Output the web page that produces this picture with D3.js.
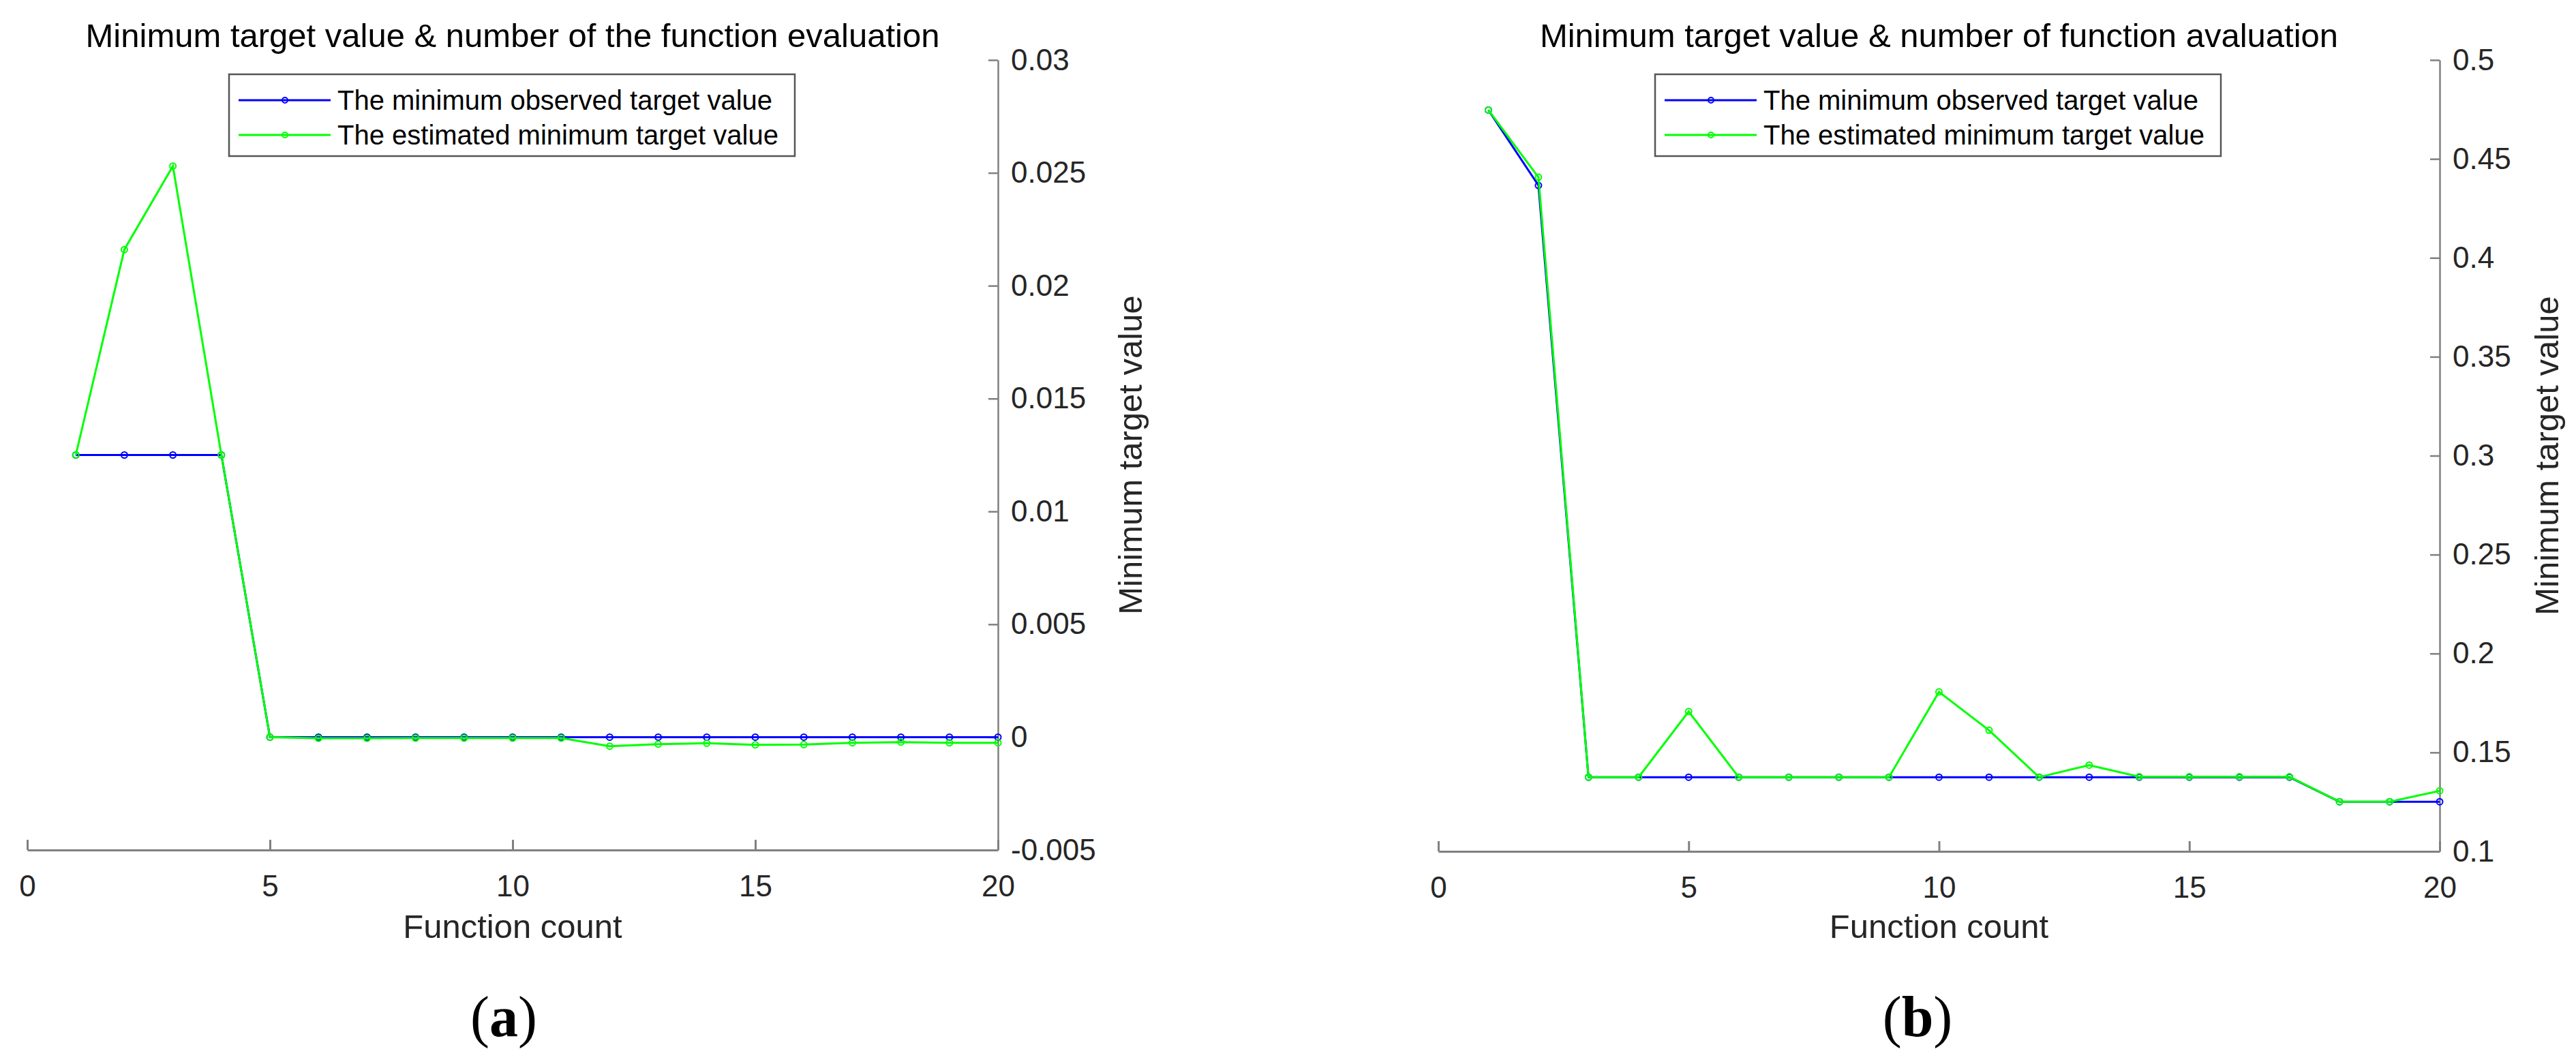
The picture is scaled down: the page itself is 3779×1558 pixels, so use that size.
<!DOCTYPE html>
<html>
<head>
<meta charset="utf-8">
<script src="https://cdn.jsdelivr.net/npm/d3@7"></script>
<style>
  body { margin: 0; background: #fff; }
  svg { display: block; font-family: "Liberation Sans", Arial, sans-serif; }
</style>
</head>
<body>
<script>
// function count on the x axis (same for both panels)
var evalCount = [1, 2, 3, 4, 5, 6, 7, 8, 9, 10, 11, 12, 13, 14, 15, 16, 17, 18, 19, 20];
var xTicks = [0, 5, 10, 15, 20];

// panel (a)
var observedA = [0.0125, 0.0125, 0.0125, 0.0125, 0, 0, 0, 0, 0, 0,
                 0, 0, 0, 0, 0, 0, 0, 0, 0, 0];
var estimatedA = [0.0125, 0.0216, 0.0253, 0.0125, 0, -0.00005, -0.00005, -0.00004, -0.00004, -0.00004,
                  -0.00004, -0.0004, -0.00031, -0.00027, -0.00034, -0.00033, -0.00025, -0.00022, -0.00025, -0.00025];
var yTicksA = [-0.005, 0, 0.005, 0.01, 0.015, 0.02, 0.025, 0.03];

// panel (b)
var observedB = [0.4747, 0.4366, 0.1375, 0.1375, 0.1375, 0.1375, 0.1375, 0.1375, 0.1375, 0.1375,
                 0.1375, 0.1375, 0.1375, 0.1375, 0.1375, 0.1375, 0.1375, 0.1251, 0.1251, 0.1251];
var estimatedB = [0.4747, 0.4407, 0.1375, 0.1375, 0.1707, 0.1375, 0.1375, 0.1375, 0.1375, 0.1806,
                  0.1612, 0.1375, 0.1436, 0.1377, 0.1377, 0.1377, 0.1377, 0.1251, 0.1251, 0.1306];
var yTicksB = [0.1, 0.15, 0.2, 0.25, 0.3, 0.35, 0.4, 0.45, 0.5];

var seriesNames = ["The minimum observed target value", "The estimated minimum target value"];
var seriesColors = ["#0000ff", "#00ff00"];

var width = 3779,
    height = 1558;

var svg = d3.select("body")
    .append("svg")
    .attr("width", width)
    .attr("height", height);

//one panel of the figure
function drawPanel(p){

    var x = d3.scaleLinear().domain([0, 20]).range([p.left, p.right]);
    var y = d3.scaleLinear().domain(d3.extent(p.yTicks)).range([p.bottom, p.top]);

    var g = svg.append("g").attr("class", "panel");

    //x axis, ticks point up into the plot
    var xAxis = g.append("g")
        .attr("transform", "translate(0," + p.bottom + ")")
        .call(d3.axisBottom(x)
            .tickValues(xTicks)
            .tickSizeInner(-15)
            .tickSizeOuter(0)
            .tickPadding(37)
            .tickFormat(d3.format("d")));

    //y axis on the right side, ticks point left
    var yAxis = g.append("g")
        .attr("transform", "translate(" + p.right + ",0)")
        .call(d3.axisRight(y)
            .tickValues(p.yTicks)
            .tickSizeInner(-14)
            .tickSizeOuter(0)
            .tickPadding(19)
            .tickFormat(function(d){ return String(+d.toFixed(3)); }));

    [xAxis, yAxis].forEach(function(a){
        a.attr("font-family", null).attr("font-size", null);
        a.selectAll("text")
            .style("font-size", "44px")
            .style("fill", "#262626");
    });
    xAxis.selectAll("path, line").attr("stroke", "#808080").attr("stroke-width", 3);
    yAxis.selectAll("path, line").attr("stroke", "#808080").attr("stroke-width", 2.5);

    //series lines and markers
    var line = d3.line()
        .x(function(d, i){ return x(evalCount[i]); })
        .y(function(d){ return y(d); });

    [p.observed, p.estimated].forEach(function(vals, k){
        g.append("path")
            .datum(vals)
            .attr("fill", "none")
            .attr("stroke", seriesColors[k])
            .attr("stroke-width", 3)
            .attr("d", line);

        g.selectAll(".mk" + k)
            .data(vals)
            .enter()
            .append("circle")
            .attr("class", "mk" + k)
            .attr("cx", function(d, i){ return x(evalCount[i]); })
            .attr("cy", function(d){ return y(d); })
            .attr("r", 4.5)
            .attr("fill", "none")
            .attr("stroke", seriesColors[k])
            .attr("stroke-width", 2);
    });

    //legend
    var leg = g.append("g").attr("transform", "translate(" + p.legendX + ",109)");
    leg.append("rect")
        .attr("width", 830)
        .attr("height", 120)
        .attr("fill", "#fff")
        .attr("stroke", "#555")
        .attr("stroke-width", 2.5);

    seriesNames.forEach(function(name, k){
        var row = leg.append("g").attr("transform", "translate(0," + (38 + k * 51) + ")");
        row.append("line")
            .attr("x1", 14).attr("x2", 149)
            .attr("stroke", seriesColors[k])
            .attr("stroke-width", 3);
        row.append("circle")
            .attr("cx", 82).attr("r", 4)
            .attr("fill", "none")
            .attr("stroke", seriesColors[k])
            .attr("stroke-width", 2);
        row.append("text")
            .attr("x", 159)
            .attr("dy", "0.35em")
            .style("font-size", "40px")
            .style("fill", "#000")
            .text(name);
    });

    //title
    g.append("text")
        .attr("x", (p.left + p.right) / 2)
        .attr("y", 69)
        .attr("text-anchor", "middle")
        .style("font-size", "49px")
        .style("fill", "#000")
        .text(p.title);

    //x label
    g.append("text")
        .attr("x", (p.left + p.right) / 2)
        .attr("y", 1376)
        .attr("text-anchor", "middle")
        .style("font-size", "49px")
        .style("fill", "#262626")
        .text("Function count");

    //y label, reads bottom to top
    g.append("text")
        .attr("transform", "translate(" + p.yLabelX + "," + ((p.top + p.bottom) / 2) + ") rotate(-90)")
        .attr("text-anchor", "middle")
        .attr("dy", "0.35em")
        .style("font-size", "49px")
        .style("fill", "#262626")
        .text("Minimum target value");

    //panel tag like (a)
    var tag = g.append("text")
        .attr("x", p.tagX)
        .attr("y", 1520)
        .attr("text-anchor", "middle")
        .style("font-family", "'Liberation Serif', 'Times New Roman', serif")
        .style("font-size", "84px")
        .style("fill", "#000");
    tag.append("tspan").text("(");
    tag.append("tspan").style("font-weight", "bold").text(p.tag);
    tag.append("tspan").text(")");
}

drawPanel({
    left: 40, right: 1464, top: 88, bottom: 1247,
    observed: observedA, estimated: estimatedA, yTicks: yTicksA,
    title: "Minimum target value & number of the function evaluation",
    legendX: 336, yLabelX: 1658, tag: "a", tagX: 739
});

drawPanel({
    left: 2110, right: 3579, top: 88, bottom: 1249,
    observed: observedB, estimated: estimatedB, yTicks: yTicksB,
    title: "Minimum target value & number of function avaluation",
    legendX: 2428, yLabelX: 3736, tag: "b", tagX: 2813
});
</script>
</body>
</html>
